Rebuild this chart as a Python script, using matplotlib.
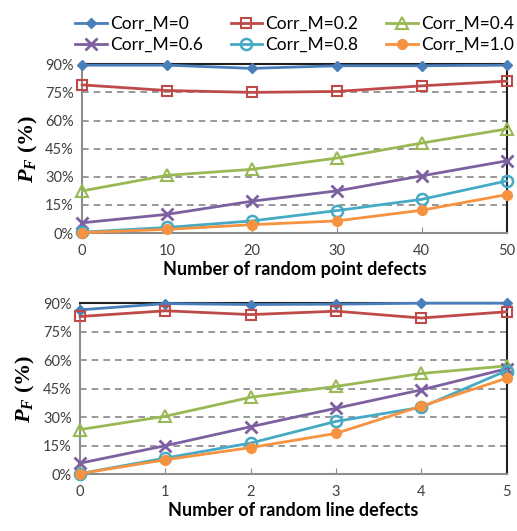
import matplotlib
matplotlib.use('Agg')
import matplotlib.pyplot as plt
from matplotlib.ticker import FuncFormatter

plt.rcParams['font.family'] = ['Lato', 'DejaVu Sans']
plt.rcParams['mathtext.fontset'] = 'custom'
plt.rcParams['mathtext.it'] = 'Liberation Serif:italic:bold'
plt.rcParams['mathtext.rm'] = 'Liberation Serif:bold'

# series names
labels = ['Corr_M=0', 'Corr_M=0.2', 'Corr_M=0.4', 'Corr_M=0.6', 'Corr_M=0.8', 'Corr_M=1.0']

# top chart: random point defects
pointX = [0, 10, 20, 30, 40, 50]
pointM0 = [89.5, 89.5, 87.8, 89.2, 89.2, 89.5]
pointM02 = [79, 76, 75, 75.5, 78.5, 81]
pointM04 = [22.5, 30.8, 34, 40, 48, 55.5]
pointM06 = [5.5, 10, 17, 22.5, 30.5, 38.5]
pointM08 = [0.5, 3, 6.5, 12, 18, 27.8]
pointM10 = [0.3, 2, 4.5, 6.5, 12.2, 20.5]

# bottom chart: random line defects
lineX = [0, 1, 2, 3, 4, 5]
lineM0 = [86.5, 89.8, 89.3, 89.5, 90, 90]
lineM02 = [83, 86, 84, 85.8, 82.2, 85.5]
lineM04 = [23.5, 30.5, 40.5, 46.2, 53, 57]
lineM06 = [5.8, 15, 25, 34.7, 44.4, 55.5]
lineM08 = [0.3, 8.5, 16.4, 27.8, 35.2, 54.5]
lineM10 = [0.3, 7.6, 14, 21.5, 35.8, 50.5]

colors = ['#4A7EBB', '#BE4B48', '#98B954', '#7D60A0', '#46AAC5', '#F69240']
styles = [
    dict(marker='D', markersize=5, markerfacecolor=colors[0]),
    dict(marker='s', markersize=7, markerfacecolor='none', markeredgewidth=1.5),
    dict(marker='^', markersize=8, markerfacecolor='none', markeredgewidth=1.5),
    dict(marker='x', markersize=8, markeredgewidth=2),
    dict(marker='o', markersize=8, markerfacecolor='none', markeredgewidth=1.8),
    dict(marker='o', markersize=7, markerfacecolor=colors[5]),
]

fig = plt.figure(figsize=(5.17, 5.31), dpi=100)
axTop = fig.add_axes([0.159, 0.561, 0.821, 0.318])
axBot = fig.add_axes([0.155, 0.107, 0.825, 0.322])


def styleAxes(ax, xs, xlabel):
    ax.set_xlim(xs[0], xs[-1])
    ax.set_ylim(0, 90)
    ax.set_yticks([0, 15, 30, 45, 60, 75, 90])
    ax.yaxis.set_major_formatter(FuncFormatter(lambda v, p: f'{int(v)}%'))
    ax.set_xticks(xs)
    for y in [15, 30, 45, 60, 75]:
        ax.axhline(y, color='#868686', linestyle=(0, (4, 3)), linewidth=1.2, zorder=0)
    for side in ['left', 'bottom']:
        ax.spines[side].set_color('#8C8C8C')
        ax.spines[side].set_linewidth(1.5)
    for side in ['top', 'right']:
        ax.spines[side].set_color('#202020')
        ax.spines[side].set_linewidth(1.5)
    ax.tick_params(axis='y', length=0, pad=6, labelsize=10.5, labelcolor='#404040')
    ax.tick_params(axis='x', length=4, direction='in', color='#8C8C8C', pad=8,
                   labelsize=10.5, labelcolor='#404040')
    ax.set_xlabel(xlabel, fontsize=13, fontweight='bold', labelpad=2)
    ax.set_ylabel(r'$P_F$ (%)', fontsize=16, fontfamily='Liberation Serif',
                  fontweight='bold', labelpad=4)


handles = []
for ys, name, c, st in zip([pointM0, pointM02, pointM04, pointM06, pointM08, pointM10],
                           labels, colors, styles):
    h, = axTop.plot(pointX, ys, color=c, linewidth=2, label=name, clip_on=False,
                    markeredgecolor=c, zorder=3, **st)
    handles.append(h)

for ys, c, st in zip([lineM0, lineM02, lineM04, lineM06, lineM08, lineM10], colors, styles):
    axBot.plot(lineX, ys, color=c, linewidth=2, clip_on=False,
               markeredgecolor=c, zorder=3, **st)

styleAxes(axTop, pointX, 'Number of random point defects')
styleAxes(axBot, lineX, 'Number of random line defects')

# legend is filled column by column, so reorder to get rows like the reference
order = [0, 3, 1, 4, 2, 5]
fig.legend(handles=[handles[i] for i in order], loc='upper center',
           bbox_to_anchor=(0.57, 1.0), ncol=3,
           frameon=False, fontsize=12.5, handlelength=1.8, handletextpad=0.2,
           columnspacing=1.6, labelspacing=0.3)

fig.savefig('out.png', dpi=100)
